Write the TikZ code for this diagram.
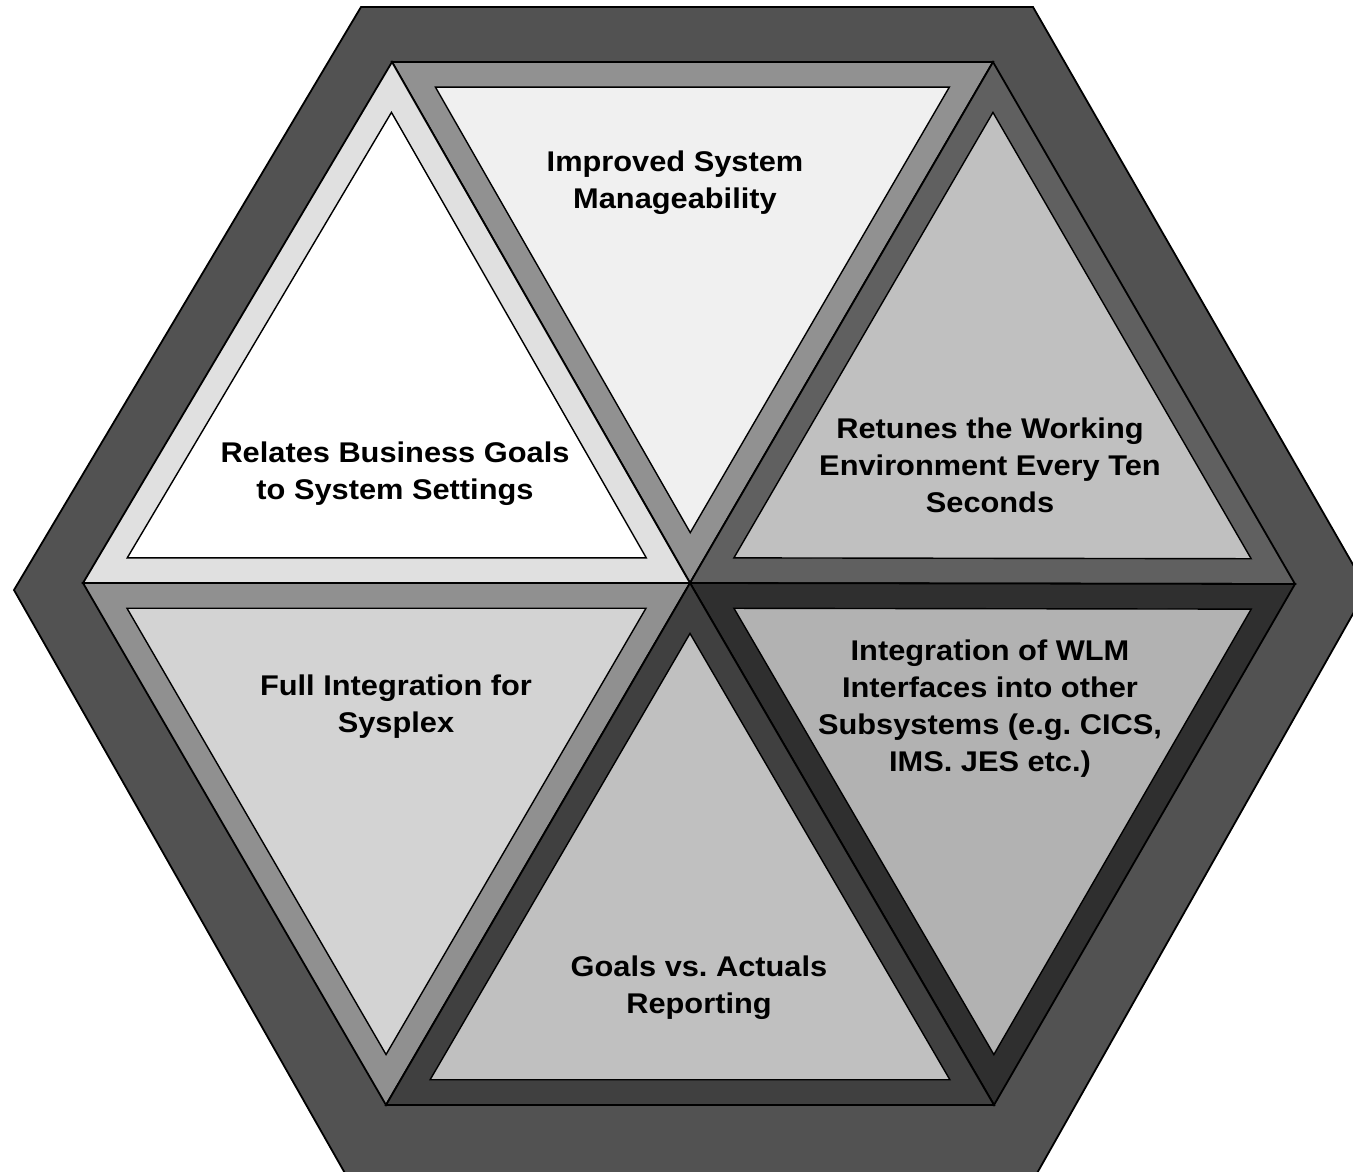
\documentclass[tikz,border=0pt]{standalone}
\usepackage{fontspec}
\newfontfamily\lblfont{Liberation Sans}[FakeStretch=1.08]
\usetikzlibrary{calc}
\frenchspacing
\definecolor{hexdark}{HTML}{525252}
\definecolor{bandA}{HTML}{E0E0E0}
\definecolor{innerA}{HTML}{FFFFFF}
\definecolor{bandB}{HTML}{919191}
\definecolor{innerB}{HTML}{F0F0F0}
\definecolor{bandC}{HTML}{606060}
\definecolor{innerC}{HTML}{C0C0C0}
\definecolor{bandD}{HTML}{2F2F2F}
\definecolor{innerD}{HTML}{B2B2B2}
\definecolor{bandE}{HTML}{404040}
\definecolor{innerE}{HTML}{C0C0C0}
\definecolor{bandF}{HTML}{909090}
\definecolor{innerF}{HTML}{D3D3D3}
\newcommand\kscale{0.855}
\newcommand\hexpiece[5]{%
  \path[bandst, fill=#4] (#1) -- (#2) -- (#3) -- cycle;
  \coordinate (mm) at ($(#1)!0.5!(#2)$);
  \coordinate (gg) at ($(mm)!1/3!(#3)$);
  \path[innerst, fill=#5] ($(gg)!\kscale!(#1)$) -- ($(gg)!\kscale!(#2)$) -- ($(gg)!\kscale!(#3)$) -- cycle;
}
\begin{document}
\begin{tikzpicture}[x=1pt,y=-1pt,
  hexst/.style={draw=black, line width=1.8pt, fill=hexdark},
  bandst/.style={draw=black, line width=1.8pt},
  innerst/.style={draw=black, line width=1.4pt},
  lbl/.style={inner sep=0pt, anchor=base, text=black,
    font=\lblfont\bfseries\fontsize{28.5}{37}\selectfont\frenchspacing}]
\useasboundingbox (0,0) rectangle (1353,1172);
\clip (0,0) rectangle (1353,1172);
% outer hexagon
\path[hexst] (361,7) -- (1033,7) -- (1367,589) -- (1036,1175) -- (346,1175) -- (14,590) -- cycle;
% inner hexagon vertices
\coordinate (C) at (690,583);
\coordinate (TL) at (392,62);
\coordinate (TR) at (993,62);
\coordinate (R) at (1295,584);
\coordinate (BR) at (994,1105);
\coordinate (BL) at (386,1105);
\coordinate (L) at (83,583);
% six triangles
\hexpiece{TL}{TR}{C}{bandB}{innerB}
\hexpiece{L}{C}{TL}{bandA}{innerA}
\hexpiece{C}{R}{TR}{bandC}{innerC}
\hexpiece{R}{C}{BR}{bandD}{innerD}
\hexpiece{L}{C}{BL}{bandF}{innerF}
\hexpiece{BL}{BR}{C}{bandE}{innerE}
% labels
\node[lbl] (t1) at (395,462) {\parbox[t]{420pt}{\centering Relates Business Goals\\to System Settings}};
\node[lbl] (t2) at (675,171) {\parbox[t]{420pt}{\centering Improved System\\Manageability}};
\node[lbl] (t3) at (990,438) {\parbox[t]{420pt}{\centering Retunes the Working\\Environment Every Ten\\Seconds}};
\node[lbl] (t4) at (990,660) {\parbox[t]{420pt}{\centering Integration of WLM\\Interfaces into other\\Subsystems (e.g. CICS,\\IMS. JES etc.)}};
\node[lbl] (t5) at (699,976) {\parbox[t]{420pt}{\centering Goals vs. Actuals\\Reporting}};
\node[lbl] (t6) at (396,695) {\parbox[t]{420pt}{\centering Full Integration for\\Sysplex}};
\end{tikzpicture}
\end{document}
